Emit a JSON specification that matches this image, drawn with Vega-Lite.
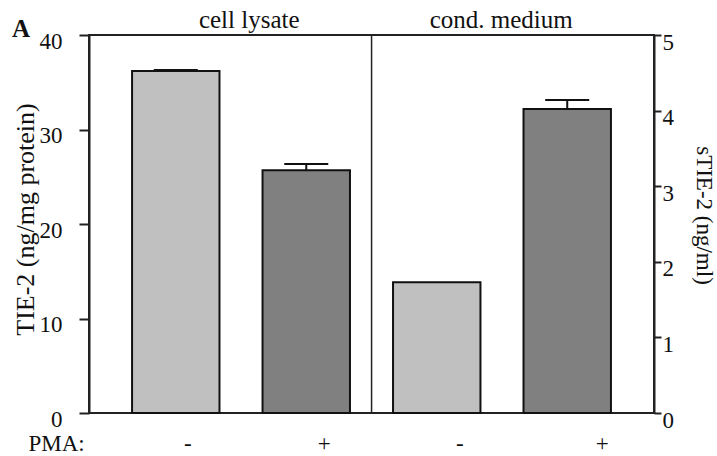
{
  "$schema": "https://vega.github.io/schema/vega-lite/v6.json",
  "width": 565,
  "height": 378,
  "autosize": {"type": "none"},
  "padding": {"left": 89, "top": 35, "right": 63, "bottom": 43},
  "background": "white",
  "config": {
    "view": {"stroke": "#222", "strokeWidth": 2},
    "font": "Liberation Serif, Times New Roman, serif",
    "text": {"font": "Liberation Serif, Times New Roman, serif"},
    "axis": {"labelFont": "Liberation Serif, Times New Roman, serif", "titleFont": "Liberation Serif, Times New Roman, serif", "grid": false, "labelColor": "#111", "titleColor": "#111", "titleFontWeight": "normal"}
  },
  "title": {"text": "A", "anchor": "start", "frame": "group", "fontSize": 25, "fontWeight": "bold", "font": "Liberation Serif, Times New Roman, serif", "color": "#111", "dx": -77, "dy": 52, "offset": -2, "baseline": "alphabetic"},
  "data": {"values": [
    {"id": "lysate-", "group": "lysate", "pma": "-", "value": 36.2, "upper": 36.3, "grouplabel": null},
    {"id": "lysate+", "group": "lysate", "pma": "+", "value": 25.7, "upper": 26.35, "grouplabel": "cell lysate"},
    {"id": "medium-", "group": "medium", "pma": "-", "value": 1.73, "upper": null, "grouplabel": null},
    {"id": "medium+", "group": "medium", "pma": "+", "value": 4.02, "upper": 4.14, "grouplabel": "cond. medium"}
  ]},
  "encoding": {
    "x": {
      "field": "id",
      "type": "nominal",
      "sort": null,
      "scale": {"domain": ["lysate-", "lysate+", "medium-", "medium+"], "paddingInner": 0.33, "paddingOuter": 0.33},
      "axis": {
        "title": "PMA:",
        "titleX": -61,
        "titleY": 37,
        "titleAlign": "left",
        "titleAnchor": "start",
        "titleBaseline": "alphabetic",
        "titleFontSize": 23,
        "labelAngle": 0,
        "labelFontSize": 23,
        "labelPadding": 37,
        "labelBaseline": "alphabetic",
        "ticks": false,
        "domain": false,
        "labelExpr": "indexof(datum.label, '+') >= 0 ? '+' : '-'",
        "labelOffset": {"condition": [
          {"test": "datum.value === 'lysate-'", "value": 12},
          {"test": "datum.value === 'lysate+'", "value": 18},
          {"test": "datum.value === 'medium-'", "value": 23}
        ], "value": 35}
      }
    }
  },
  "layer": [
    {
      "transform": [{"filter": "datum.group === 'lysate'"}],
      "encoding": {
        "y": {
          "field": "value",
          "type": "quantitative",
          "title": "TIE-2 (ng/mg protein)",
          "scale": {"domain": [0, 40], "nice": false},
          "axis": {
            "orient": "left",
            "values": [0, 10, 20, 30, 40],
            "labelFontSize": 23,
            "labelPadding": 17,
            "labelOffset": 6,
            "labelBaseline": "middle",
            "tickSize": 10,
            "tickWidth": 2,
            "tickColor": "#222",
            "domainColor": "#222",
            "domainWidth": 2,
            "titleFontSize": 26,
            "titleX": -64,
            "titleY": 184,
            "titleBaseline": "middle",
            "titleAngle": -90
          }
        }
      },
      "layer": [
        {
          "mark": {"type": "bar", "stroke": "#111", "strokeWidth": 2},
          "encoding": {
            "color": {"field": "pma", "type": "nominal", "scale": {"domain": ["-", "+"], "range": ["#c0c0c0", "#808080"]}, "legend": null}
          }
        },
        {
          "transform": [{"filter": "datum.upper != null"}],
          "mark": {"type": "rule", "strokeWidth": 2, "color": "#111"},
          "encoding": {"y2": {"field": "upper"}}
        },
        {
          "transform": [{"filter": "datum.upper != null"}],
          "mark": {"type": "tick", "size": 44, "thickness": 2, "color": "#111", "opacity": 1},
          "encoding": {"y": {"field": "upper", "type": "quantitative", "title": "TIE-2 (ng/mg protein)"}}
        },
        {
          "transform": [{"filter": "datum.grouplabel != null"}],
          "mark": {"type": "text", "fontSize": 25, "font": "Liberation Serif, Times New Roman, serif", "color": "#111", "dx": -57, "dy": -7, "baseline": "alphabetic", "align": "center"},
          "encoding": {"y": {"datum": 40}, "text": {"field": "grouplabel", "type": "nominal"}}
        }
      ]
    },
    {
      "transform": [{"filter": "datum.group === 'medium'"}],
      "encoding": {
        "y": {
          "field": "value",
          "type": "quantitative",
          "title": "sTIE-2 (ng/ml)",
          "scale": {"domain": [0, 5], "nice": false},
          "axis": {
            "orient": "right",
            "values": [0, 1, 2, 3, 4, 5],
            "labelFontSize": 23,
            "labelPadding": 1,
            "labelOffset": 7,
            "labelBaseline": "middle",
            "tickSize": 7,
            "tickWidth": 2,
            "tickColor": "#222",
            "domainColor": "#222",
            "domainWidth": 2,
            "titleFontSize": 23,
            "titleX": 49,
            "titleY": 180,
            "titleBaseline": "middle",
            "titleAngle": 90
          }
        }
      },
      "layer": [
        {
          "mark": {"type": "bar", "stroke": "#111", "strokeWidth": 2},
          "encoding": {
            "color": {"field": "pma", "type": "nominal", "scale": {"domain": ["-", "+"], "range": ["#c0c0c0", "#808080"]}, "legend": null}
          }
        },
        {
          "transform": [{"filter": "datum.upper != null"}],
          "mark": {"type": "rule", "strokeWidth": 2, "color": "#111"},
          "encoding": {"y2": {"field": "upper"}}
        },
        {
          "transform": [{"filter": "datum.upper != null"}],
          "mark": {"type": "tick", "size": 44, "thickness": 2, "color": "#111", "opacity": 1},
          "encoding": {"y": {"field": "upper", "type": "quantitative", "title": "sTIE-2 (ng/ml)"}}
        },
        {
          "transform": [{"filter": "datum.grouplabel != null"}],
          "mark": {"type": "text", "fontSize": 25, "font": "Liberation Serif, Times New Roman, serif", "color": "#111", "dx": -66, "dy": -7, "baseline": "alphabetic", "align": "center"},
          "encoding": {"y": {"datum": 5}, "text": {"field": "grouplabel", "type": "nominal"}}
        }
      ]
    },
    {
      "transform": [{"filter": "datum.id === 'lysate+'"}],
      "mark": {"type": "rule", "color": "#222", "strokeWidth": 1.5},
      "encoding": {"x": {"field": "id", "type": "nominal", "bandPosition": 1.247}}
    }
  ],
  "resolve": {"scale": {"y": "independent"}, "axis": {"y": "independent"}}
}
